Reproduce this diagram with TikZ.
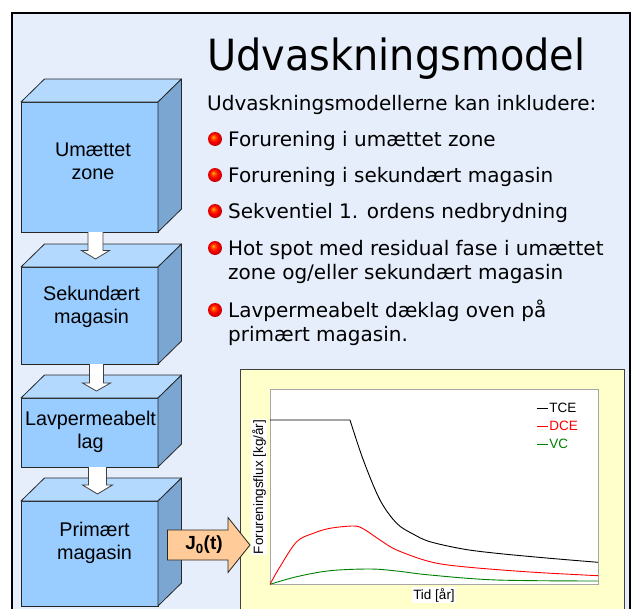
\documentclass[tikz,border=0pt]{standalone}
\usepackage{fontspec}
\setmainfont{DejaVu Sans}
\newfontfamily\arialf{Liberation Sans}
\usetikzlibrary{calc}
\definecolor{bgblue}{HTML}{E6EEFC}
\definecolor{frontc}{HTML}{99CCFF}
\definecolor{topc}{HTML}{B3D9FF}
\definecolor{sidec}{HTML}{7BA6D1}
\definecolor{peach}{HTML}{FFCC99}
\definecolor{chartbg}{HTML}{FFFFCC}
\definecolor{dcered}{HTML}{FF0000}
\definecolor{vcgreen}{HTML}{008000}
\pgfdeclareradialshading{redball}{\pgfpoint{-7bp}{8bp}}{color(0bp)=(yellow!55!orange); color(5bp)=(orange!80!red); color(14bp)=(red!95!orange); color(24bp)=(red!80!black); color(40bp)=(red!75!black)}
\tikzset{
  frame/.style={draw=black, line width=1.3pt, fill=bgblue},
  frontface/.style={draw=black!85, line width=0.8pt, fill=frontc, inner sep=0pt, outer sep=0pt},
  topface/.style={draw=black!85, line width=0.8pt, fill=topc, line join=round},
  sideface/.style={draw=black!85, line width=0.8pt, fill=sidec, line join=round},
  boxtext/.style={font=\arialf\fontsize{19.8}{23}\selectfont, align=center, inner sep=0pt},
  flowarrow/.style={draw=black!75, line width=0.8pt, fill=white, line join=miter},
  jarrow/.style={draw=black!85, line width=0.8pt, fill=peach, line join=miter},
  jtext/.style={font=\arialf\bfseries\fontsize{19}{22}\selectfont, inner sep=0pt},
  titletext/.style={font=\fontsize{43}{50}\selectfont, anchor=base west, inner sep=0pt},
  bodytext/.style={font=\fontsize{20}{24}\selectfont, anchor=base west, inner sep=0pt},
  bulletball/.style={shading=redball},
  chartbox/.style={draw=black!75, line width=0.8pt, fill=chartbg, inner sep=0pt, outer sep=0pt, anchor=north west},
  plotbox/.style={draw=black!35, line width=0.8pt, fill=white, inner sep=0pt, outer sep=0pt, anchor=north west},
  charttext/.style={font=\arialf\fontsize{13.5}{16}\selectfont, inner sep=0.8pt},
  axislabel/.style={charttext, fill=white},
  tceline/.style={black, line width=0.9pt},
  dceline/.style={dcered, line width=0.9pt},
  vcline/.style={vcgreen, line width=0.9pt},
}
\newcommand\drawcubefaces[1]{%
  \draw[topface] (#1.north west) -- ++(23.5,-23) -- ($(#1.north east)+(23.5,-23)$) -- (#1.north east) -- cycle;
  \draw[sideface] (#1.north east) -- ++(23.5,-23) -- ($(#1.south east)+(23.5,-23)$) -- (#1.south east) -- cycle;}
\newcommand\blockdown[5]{%
  \filldraw[flowarrow] let \p1=(#1), \p2=(#2) in
  (\x1-#3pt,\y1) -- (\x1-#3pt,\y2+#5pt) -- (\x1-#4pt,\y2+#5pt) -- (\x1,\y2)
  -- (\x1+#4pt,\y2+#5pt) -- (\x1+#3pt,\y2+#5pt) -- (\x1+#3pt,\y1);}
\begin{document}
\begin{tikzpicture}[x=1pt,y=-1pt]
\useasboundingbox (0,0) rectangle (632,608);
\clip (0,0) rectangle (632,608);
\fill[white] (0,0) rectangle (632,608);
\draw[frame] (12,13) rectangle (630,650);

% cubes
\node[frontface, minimum width=137pt, minimum height=130pt] (b1) at (89.5,167) {};
\drawcubefaces{b1}
\node[frontface, minimum width=137pt, minimum height=97pt] (b2) at (89.5,315.5) {};
\drawcubefaces{b2}
\node[frontface, minimum width=137pt, minimum height=69pt] (b3) at (89.5,432.5) {};
\drawcubefaces{b3}
\node[frontface, minimum width=137pt, minimum height=105pt] (b4) at (89.5,553.5) {};
\drawcubefaces{b4}

\node[boxtext] (t1) at (93,161.5) {Umættet\\zone};
\node[boxtext] (t2) at (91.5,307) {Sekundært\\magasin};
\node[boxtext] (t3) at (90.5,431.5) {Lavpermeabelt\\lag};
\node[boxtext] (t4) at (94.5,542.5) {Primært\\magasin};

% flow arrows
\blockdown{$(b1.south)+(6,0)$}{$(b2.north)+(6,-8)$}{7.5}{14}{8.5}
\blockdown{$(b2.south)+(7,0)$}{$(b3.north)+(7,-7)$}{7}{14}{8}
\blockdown{$(b3.south)+(8,0)$}{$(b4.north)+(8,-7)$}{9}{15}{9}

% chart
\node[chartbox, minimum width=384pt, minimum height=280pt] (chart) at (240,369) {};
\node[plotbox, minimum width=328pt, minimum height=195pt] (plot) at (270,389) {};
\draw[tceline] (270,420) -- (350,420) plot[smooth, tension=0.55] coordinates {(350,420) (363.3,460) (380,500) (396.7,523.3) (413,534) (430,541.7) (463,549) (496.7,553.3) (550,558.3) (598,562.3)};
\draw[dceline] plot[smooth, tension=0.55] coordinates {(270,584.3) (280,566.7) (296.7,541.7) (313.3,533.3) (330,528.3) (353.3,526) (363.3,528.8) (380,540) (396.7,550) (430,561.7) (463.3,566.7) (530,572) (598,575.7)};
\draw[vcline] plot[smooth, tension=0.55] coordinates {(270,584.3) (296.7,576.7) (330,570.7) (370,569) (396.7,571) (430,575) (496.7,580) (598,581)};
\node[axislabel, rotate=90] (ylab) at (259,487) {Forureningsflux [kg/år]};
\node[axislabel] (xlab) at (434,595) {Tid [år]};
\draw[tceline] (537,408) -- (548,408) node[charttext, anchor=west] (lt) {TCE};
\draw[dceline] (537,426) -- (548,426) node[charttext, anchor=west] (ld) {DCE};
\draw[vcline] (537,444) -- (548,444) node[charttext, anchor=west] (lv) {VC};

% J0 arrow
\filldraw[jarrow] let \p1=($(b4.east)+(9.5,-8.5)$), \p2=($(chart.north west)+(10,176)$) in
  (\x1,\y1+15pt) -- (\x2-22pt,\y1+15pt) -- (\x2-22pt,\y1+27.5pt) -- (\x2,\y1)
  -- (\x2-22pt,\y1-27.5pt) -- (\x2-22pt,\y1-15pt) -- (\x1,\y1-15pt) -- cycle;
\node[jtext] (j0) at (204,545) {J\textsubscript{0}(t)};

% text
\node[titletext] (title) at (207,70) {\scalebox{0.927}[1]{Udvaskningsmodel}};
\node[bodytext] (intro) at (207,110.5) {Udvaskningsmodellerne kan inkludere:};
\shade[bulletball] (215,139) circle (7pt);
\node[bodytext] (i1) at (228,146) {Forurening i umættet zone};
\shade[bulletball] (215,175) circle (7pt);
\node[bodytext] (i2) at (228,182) {Forurening i sekundært magasin};
\shade[bulletball] (215,211) circle (7pt);
\node[bodytext] (i3) at (228,218) {Sekventiel 1. ordens nedbrydning};
\shade[bulletball] (215,248) circle (7pt);
\node[bodytext] (i4a) at (228,255) {Hot spot med residual fase i umættet};
\node[bodytext] (i4b) at (228,279) {zone og/eller sekundært magasin};
\shade[bulletball] (215,310) circle (7pt);
\node[bodytext] (i5a) at (228,317) {Lavpermeabelt dæklag oven på};
\node[bodytext] (i5b) at (228,341) {primært magasin.};
\end{tikzpicture}
\end{document}
